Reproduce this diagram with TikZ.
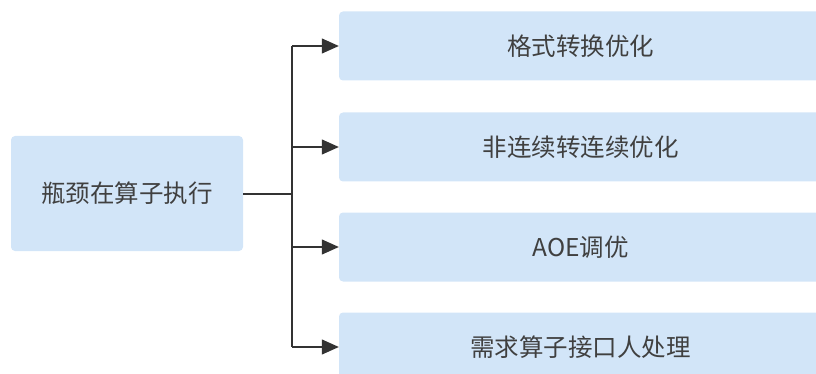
\documentclass[tikz,border=0pt]{standalone}
\usepackage{fontspec}
\newfontfamily\cjk{Noto Sans CJK SC}
\usetikzlibrary{arrows.meta}
\definecolor{boxfill}{HTML}{D2E5F8}
\definecolor{txt}{HTML}{404040}
\definecolor{ln}{HTML}{333333}
\begin{document}
\begin{tikzpicture}[x=1pt,y=-1pt,
  box/.style={fill=boxfill, rounded corners=4pt, draw=none, inner sep=0pt, font=\cjk\fontsize{24.5}{28}\selectfont, text=txt},
  rbox/.style={box, minimum width=483pt, minimum height=69pt},
  conn/.style={draw=ln, line width=1.2pt, -{Triangle[length=17pt,width=15pt]}}]
\useasboundingbox (0,0) rectangle (816,374);
\begin{scope}
\clip (0,0) rectangle (816,374);
\node[box, minimum width=232pt, minimum height=115pt] (root) at (127,193.5) {瓶颈在算子执行};
\node[rbox] (b1) at (580.5,46) {格式转换优化};
\node[rbox] (b2) at (580.5,147) {非连续转连续优化};
\node[rbox] (b3) at (580.5,247) {AOE调优};
\node[rbox] (b4) at (580.5,347) {需求算子接口人处理};
\coordinate (j) at (292,194);
\coordinate (jt) at (292,46);
\coordinate (jb) at (292,347);
\draw[draw=ln, line width=2pt] (root.east |- j) -- (j);
\draw[draw=ln, line width=1.2pt] (jt) -- (jb);
\draw[conn] (jt) -- (b1.west);
\draw[conn] (j |- b2.west) -- (b2.west);
\draw[conn] (j |- b3.west) -- (b3.west);
\draw[conn] (jb) -- (b4.west);
\end{scope}
\end{tikzpicture}
\end{document}
